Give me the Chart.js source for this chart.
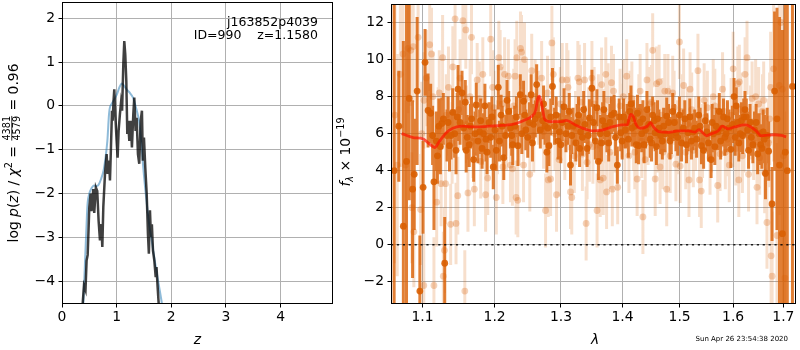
<!DOCTYPE html>
<html><head><meta charset="utf-8">
<script src="https://cdn.jsdelivr.net/npm/chart.js@4.4.1/dist/chart.umd.min.js"></script>
<style>
html,body{margin:0;padding:0;background:#fff;width:800px;height:350px;overflow:hidden;}
.wrap{position:absolute;top:0;}
canvas{display:block;}
</style></head>
<body>
<div class="wrap" style="left:0px"><canvas id="c1" width="340" height="350"></canvas></div>
<div class="wrap" style="left:335px"><canvas id="c2" width="465" height="350"></canvas></div>
<script>
// ---------- LEFT PANEL DATA: p(z) ----------
const zTicks = [0, 1, 2, 3, 4];
const logpTicks = [-4, -3, -2, -1, 0, 1, 2];
const fitZ    = [0.36, 0.39, 0.42, 0.45, 0.47, 0.50, 0.54, 0.58, 0.63, 0.67, 0.72, 0.76, 0.80, 0.83, 0.86, 0.88, 0.94, 1.00, 1.05, 1.09, 1.13, 1.18, 1.24, 1.30, 1.35, 1.41, 1.45, 1.48, 1.52, 1.55, 1.60, 1.64, 1.70, 1.76, 1.83, 1.87];
const fitLogP = [-5.2, -4.52, -3.6, -2.7, -2.2, -2.0, -1.88, -1.82, -1.83, -1.80, -1.65, -1.48, -1.15, -0.8, -0.2, -0.02, 0.11, 0.25, 0.42, 0.51, 0.47, 0.38, 0.30, 0.19, -0.02, -0.34, -0.8, -1.3, -1.85, -2.2, -2.75, -3.05, -3.55, -4.0, -4.52, -4.9];
const pzZ    = [0.370, 0.378, 0.402, 0.430, 0.450, 0.470, 0.500, 0.524, 0.540, 0.573, 0.590, 0.620, 0.645, 0.670, 0.695, 0.720, 0.738, 0.756, 0.787, 0.817, 0.835, 0.860, 0.878, 0.896, 0.915, 0.927, 0.945, 0.957, 0.975, 1.000, 1.018, 1.036, 1.060, 1.080, 1.100, 1.122, 1.140, 1.158, 1.177, 1.195, 1.210, 1.232, 1.257, 1.280, 1.305, 1.323, 1.347, 1.366, 1.390, 1.414, 1.440, 1.463, 1.480, 1.500, 1.524, 1.550, 1.573, 1.590, 1.610, 1.628, 1.645, 1.665, 1.690, 1.715, 1.730, 1.750, 1.770, 1.790];
const pzLogP = [-4.9, -4.52, -4.1, -4.2, -3.53, -3.4, -2.31, -2.0, -2.4, -1.9, -2.44, -1.86, -1.94, -2.62, -3.07, -2.7, -3.22, -2.31, -1.55, -1.1, -1.55, -1.25, -1.7, -0.95, -0.11, -0.34, 0.15, 0.38, -0.19, -0.80, -1.18, -0.57, -0.19, 0.07, -0.11, 0.95, 1.48, 1.17, 0.57, -0.64, -0.34, -0.80, -0.34, -0.95, -0.19, 0.19, -0.57, -0.27, -1.1, -1.32, -0.34, -0.11, -1.25, -0.72, -1.4, -2.0, -2.92, -3.37, -2.38, -2.99, -2.7, -3.3, -3.53, -3.91, -3.68, -4.13, -4.52, -4.9];

// ---------- RIGHT PANEL DATA: spectrum ----------
const lamTicks = [1.1, 1.2, 1.3, 1.4, 1.5, 1.6, 1.7];
const fluxTicks = [-2, 0, 2, 4, 6, 8, 10, 12];
const darkLam = [1.063,1.069,1.0749,1.079,1.0825,1.0869,1.0891,1.0929,1.0965,1.1008,1.1034,1.1074,1.1109,1.1153,1.1185,1.1219,1.1259,1.1299,1.1330,1.1364,1.1408,1.1435,1.1454,1.1482,1.1510,1.1537,1.1583,1.1610,1.1638,1.1670,1.1700,1.1737,1.1785,1.1820,1.1860,1.1891,1.1943,1.1980,1.2024,1.2053,1.2094,1.2133,1.2181,1.2231,1.2265,1.2294,1.2342,1.2377,1.2426,1.2460,1.2489,1.2540,1.2575,1.2601,1.2624,1.2650,1.2680,1.2715,1.2752,1.2780,1.2812,1.2840,1.2867,1.2900,1.2955,1.2997,1.3020,1.3048,1.3078,1.3110,1.3150,1.3190,1.3235,1.3278,1.3310,1.3340,1.3380,1.3415,1.3453,1.3494,1.3550,1.3600,1.3630,1.3670,1.3710,1.3770,1.3816,1.3860,1.3914,1.3970,1.4020,1.4080,1.4125,1.4160,1.4190,1.4236,1.4275,1.4330,1.4370,1.4420,1.4477,1.4520,1.4564,1.4605,1.4660,1.4713,1.4768,1.4827,1.4875,1.4933,1.4996,1.5035,1.5094,1.5155,1.5215,1.5275,1.5350,1.5400,1.5440,1.5500,1.5580,1.5625,1.5674,1.5735,1.5785,1.5840,1.5890,1.5955,1.6017,1.6060,1.6110,1.6160,1.6207,1.6256,1.6300,1.6353,1.6418,1.6480,1.6540,1.6590,1.6636,1.6700,1.6768,1.6820,1.6869,1.6920,1.6980,1.7037,1.7080,1.7186,
  1.1135,1.1200,1.1240,1.1280,1.1345,1.1385,1.1470,1.1560,1.1595,1.1655,1.1720,1.1760,1.1800,1.1840,1.1875,1.1920,
  1.1960,1.2005,1.2070,1.2110,1.2160,1.2205,1.2250,1.2320,1.2400,1.2445,1.2515,1.2560,1.2730,1.2795,1.2925,1.2975,1.3130,1.3170,1.3255,1.3295,1.3360,1.3435,1.3520,1.3575,1.3650,1.3690,1.3740,1.3790,1.3885,1.3945,1.3995,1.4050,1.4100,1.4145,1.4210,1.4255,1.4300,1.4350,1.4395,1.4450,1.4500,1.4545,1.4585,1.4630,1.4690,1.4740,1.4800,1.4850,1.4905,1.4965,1.5065,1.5125,1.5185,1.5245,1.5310,1.5375,1.5470,1.5530,1.5600,1.5650,1.5705,1.5760,1.5815,1.5865,1.5920,1.5985,1.6040,1.6085,1.6135,1.6185,1.6230,1.6280,1.6330,1.6385,1.6450,1.6510,1.6565,1.6610,1.6670];
const darkFlux = [4.0,6.4,1.0,4.5,7.9,3.0,3.8,8.3,-2.5,3.1,9.85,7.25,7.1,3.4,5.6,6.4,6.55,-1.0,5.9,5.35,7.15,6.0,5.1,8.4,6.6,8.2,7.7,5.8,5.4,6.8,4.6,7.55,6.1,5.2,7.5,5.0,5.8,4.2,5.1,8.5,7.0,4.7,7.8,6.3,5.4,6.4,5.35,8.1,7.75,6.2,5.8,8.1,6.5,6.8,8.65,7.0,6.2,6.7,6.4,5.0,5.35,6.9,8.55,6.4,5.6,5.4,6.6,7.45,6.0,6.4,4.3,6.4,5.5,7.0,6.1,5.8,6.5,5.2,6.85,8.45,5.6,4.5,6.0,6.7,6.4,5.5,7.0,7.1,4.3,6.05,6.9,6.6,7.2,6.3,6.8,5.4,5.35,6.0,5.4,7.3,5.7,7.0,6.05,6.8,5.9,6.4,6.95,5.6,7.2,6.05,7.0,5.5,6.8,6.05,5.6,6.3,7.0,5.35,5.1,6.1,4.6,6.0,6.4,7.2,6.3,5.8,6.8,5.15,8.0,7.5,5.5,6.7,6.9,6.9,5.1,5.8,6.2,4.9,5.4,6.1,3.85,5.05,2.2,8.3,6.8,4.3,0.6,5.0,4.0,8.55,
  5.9,4.8,5.3,6.8,6.6,5.9,6.9,6.3,5.1,6.4,6.0,5.6,6.7,6.0,5.7,6.6,
  6.9,6.2,5.6,6.4,5.9,7.2,5.9,6.9,6.0,7.0,6.6,5.5,7.6,6.3,7.0,6.1,7.2,5.9,6.6,5.2,7.3,5.9,6.6,7.4,5.5,7.3,6.0,6.6,5.8,6.9,5.6,6.2,5.7,7.6,6.4,7.1,6.6,6.8,6.2,6.5,5.5,6.7,5.3,6.3,5.6,6.0,6.6,5.9,6.6,5.8,6.3,5.4,6.9,6.1,5.7,6.4,6.7,5.5,6.6,5.3,6.1,5.6,6.9,6.0,6.3,6.5,5.8,6.6,6.0,5.9,7.3,6.2,6.6,5.4,6.6,6.0,5.2,5.7,5.9];
const darkErr = [12,3.0,10,9,5.5,4.8,3.0,4.0,3.0,2.5,1.8,2.0,1.6,2.6,1.6,1.5,1.4,2.5,1.4,1.4,1.3,1.3,1.3,1.3,1.2,1.2,1.2,1.2,1.2,1.2,1.2,1.2,1.2,1.1,1.2,1.2,1.1,1.2,1.1,1.2,1.1,1.2,1.1,1.1,1.1,1.1,1.1,1.1,1.1,1.1,1.1,1.1,1.1,1.0,1.1,1.0,1.0,1.0,1.0,1.1,1.1,1.0,1.0,1.0,1.0,1.0,1.0,1.0,1.0,1.0,1.1,1.0,1.0,1.0,1.0,1.0,1.0,1.0,1.0,1.0,1.0,1.0,1.0,1.0,1.0,1.0,1.0,1.0,1.0,1.0,1.0,1.0,1.0,1.0,1.0,1.0,1.0,1.0,1.0,1.0,1.0,1.0,1.0,1.0,1.0,1.0,1.0,1.0,1.0,1.0,1.0,1.0,1.0,1.0,1.0,1.0,1.0,1.0,1.0,1.0,1.0,1.0,1.0,1.0,1.0,1.0,1.0,1.0,1.0,1.0,1.0,1.0,1.0,1.0,1.0,1.0,1.0,1.1,1.1,1.2,1.4,1.6,2.0,4.3,6.0,8.0,11,12,12,12,
  1.6,1.5,1.5,1.4,1.4,1.3,1.3,1.2,1.2,1.2,1.2,1.2,1.2,1.1,1.2,1.1,
  1.1,1.1,1.1,1.1,1.1,1.1,1.1,1.1,1.1,1.1,1.1,1.0,1.0,1.0,1.0,1.0,1.0,1.0,1.0,1.0,1.0,1.0,1.0,1.0,1.0,1.0,1.0,1.0,1.0,1.0,1.0,1.0,1.0,1.0,1.0,1.0,1.0,1.0,1.0,1.0,1.0,1.0,1.0,1.0,1.0,1.0,1.0,1.0,1.0,1.0,1.0,1.0,1.0,1.0,1.0,1.0,1.0,1.0,1.0,1.0,1.0,1.0,1.0,1.0,1.0,1.0,1.0,1.0,1.0,1.0,1.0,1.0,1.0,1.0,1.0,1.1,1.1,1.3,1.5];
const lightLam = [1.064,1.067,1.071,1.0745,1.0776,1.0810,1.0845,1.0860,1.0877,1.0886,1.0942,1.0975,1.0990,1.1017,1.1050,1.1096,1.1120,1.1153,1.1190,1.1225,1.1250,1.1270,1.1280,1.1295,1.1310,1.1350,1.1380,1.1410,1.1441,1.1454,1.1478,1.1510,1.1550,1.1576,1.1590,1.1620,1.1650,1.1670,1.1710,1.1750,1.1800,1.1830,1.1870,1.1900,1.1943,1.1970,1.2024,1.2061,1.2080,1.2120,1.2145,1.2200,1.2231,1.2260,1.2300,1.2315,1.2325,1.2340,1.2380,1.2395,1.2426,1.2440,1.2520,1.2549,1.2600,1.2700,1.2760,1.2801,1.2838,1.2858,1.2880,1.2930,1.2970,1.3020,1.3090,1.3110,1.3150,1.3170,1.3210,1.3267,1.3290,1.3340,1.3375,1.3400,1.3415,1.3453,1.3494,1.3530,1.3578,1.3630,1.3652,1.3680,1.3722,1.3735,1.3790,1.3816,1.3830,1.3850,1.3920,1.3960,1.4015,1.4072,1.4110,1.4160,1.4210,1.4250,1.4302,1.4350,1.4390,1.4420,1.4470,1.4520,1.4564,1.4590,1.4634,1.4650,1.4700,1.4733,1.4768,1.4790,1.4830,1.4875,1.4933,1.4996,1.5010,1.5072,1.5110,1.5170,1.5190,1.5250,1.5335,1.5365,1.5396,1.5450,1.5510,1.5560,1.5620,1.5705,1.5750,1.5797,1.5850,1.5925,1.6000,1.6050,1.6090,1.6110,1.6120,1.6180,1.6232,1.6270,1.6300,1.6370,1.6440,1.6467,1.6520,1.6577,1.6620,1.6666,1.6740,1.6750,1.6770,1.6800,1.6869,1.6915,1.6950,1.6980,1.7000,1.7030,
  1.1020,1.1140,1.1210,1.1320,1.1400,1.1490,1.1600,1.1690,1.1780,1.1850,1.1990,1.2040,1.2110,1.2175,1.2280,1.2360,1.2470,1.2580,1.2650,1.2730,1.2790,1.2905,1.2990,1.3060,1.3130,1.3230,1.3310,1.3440,1.3510,1.3600,1.3700,1.3760,1.3870,1.3990,1.4040,1.4130,1.4190,1.4280,1.4330,1.4440,1.4500,1.4610,1.4680,1.4810,1.4900,1.4960,1.5040,1.5140,1.5220,1.5290,1.5420,1.5480,1.5590,1.5650,1.5730,1.5820,1.5890,1.5960,1.6020,1.6150,1.6210,1.6340,1.6400,1.6500,1.6550,1.6600,1.6700,1.6720];
const lightFlux = [7.0,4.3,9.2,10.3,4.3,10.6,10.5,2.0,10.7,0.7,11.2,1.9,6.0,-2.2,9.0,10.8,10.3,-2.2,2.3,8.2,3.3,10.1,-1.7,-0.3,3.3,8.5,1.1,9.6,12.2,1.15,2.65,9.0,12.1,-2.5,11.6,2.8,8.0,11.2,3.0,8.9,4.5,9.2,2.7,3.6,11.1,8.5,2.55,10.1,9.6,4.2,9.2,9.1,4.3,4.1,9.1,2.55,10.1,2.4,10.6,10.4,4.3,10.0,3.8,9.4,8.0,9.0,1.85,3.5,3.55,10.9,9.2,2.7,4.6,8.9,8.9,8.5,2.85,2.55,4.8,9.0,8.8,4.9,8.9,1.15,4.45,5.4,9.0,7.6,1.85,3.5,8.65,3.6,9.2,2.85,5.0,8.75,3.0,8.3,3.1,7.5,8.0,9.1,4.8,7.9,5.0,3.55,8.3,1.5,4.6,8.9,7.6,10.5,3.55,8.7,8.8,4.2,5.0,8.3,3.0,8.3,4.8,8.2,4.35,10.95,4.25,8.6,5.0,3.5,8.4,5.1,9.4,3.5,2.9,7.8,7.4,4.7,8.0,3.2,4.9,8.4,5.0,4.3,9.5,5.2,8.7,3.5,8.8,4.8,9.2,10.1,3.8,7.9,8.0,3.1,4.7,7.2,3.9,1.2,8.5,-0.6,-1.7,9.5,0.5,8.6,12.0,8.4,4.8,-1.8,
  7.8,8.0,6.2,7.0,5.5,7.3,6.5,5.6,7.9,6.3,7.4,5.8,7.6,6.0,7.5,6.3,7.9,5.9,7.4,6.1,8.2,6.0,7.6,5.5,7.1,6.3,7.7,6.5,5.3,7.2,6.4,7.8,5.9,6.7,5.4,7.4,6.0,7.2,5.6,6.3,7.7,5.9,7.0,6.6,7.4,5.8,7.2,6.5,7.3,6.0,5.6,6.9,5.9,7.5,6.1,7.2,5.7,7.0,6.2,7.3,5.9,6.6,5.5,7.6,6.0,7.8,5.5,6.8];
const lightErr = [8,6,5,4,3.5,3.5,3,3,3,3,3,3,2.8,2.8,2.6,2.5,2.5,2.6,2.4,2.3,2.3,2.3,2.4,2.3,2.2,2.2,2.2,2.2,2.2,2.2,2.1,2.1,2.1,2.2,2.1,2.1,2.0,2.0,2.0,2.0,2.0,2.0,2.0,2.0,2.0,2.0,2.0,2.0,2.0,2.0,2.0,2.0,2.0,2.0,2.0,2.0,2.0,2.0,2.0,2.0,2.0,2.0,2.0,2.0,2.0,2.0,2.0,2.0,2.0,2.0,2.0,2.0,2.0,2.0,2.0,2.0,2.0,2.0,2.0,2.0,2.0,2.0,2.0,2.0,2.0,2.0,2.0,2.0,2.0,2.0,2.0,2.0,2.0,2.0,2.0,2.0,2.0,2.0,2.0,2.0,2.0,2.0,2.0,2.0,2.0,2.0,2.0,2.0,2.0,2.0,2.0,2.0,2.0,2.0,2.0,2.0,2.0,2.0,2.0,2.0,2.0,2.0,2.0,2.0,2.0,2.0,2.0,2.0,2.0,2.0,2.0,2.0,2.0,2.0,2.0,2.0,2.0,2.0,2.0,2.0,2.0,2.0,2.0,2.0,2.0,2.0,2.0,2.0,2.0,2.0,2.0,2.0,2.0,2.0,2.0,2.0,2.2,2.5,3.0,3.0,3.5,5,5,7,8,8,8,9,
  2.6,2.4,2.3,2.2,2.2,2.1,2.1,2.0,2.0,2.0,2.0,2.0,2.0,2.0,2.0,2.0,2.0,2.0,2.0,2.0,2.0,2.0,2.0,2.0,2.0,2.0,2.0,2.0,2.0,2.0,2.0,2.0,2.0,2.0,2.0,2.0,2.0,2.0,2.0,2.0,2.0,2.0,2.0,2.0,2.0,2.0,2.0,2.0,2.0,2.0,2.0,2.0,2.0,2.0,2.0,2.0,2.0,2.0,2.0,2.0,2.0,2.0,2.0,2.0,2.0,2.1,2.4,2.5];
const modelLam  = [1.0727,1.0877,1.1008,1.1096,1.1163,1.1229,1.1320,1.1409,1.1546,1.1731,1.1919,1.2110,1.2306,1.2454,1.2554,1.2605,1.2645,1.2666,1.2710,1.2747,1.2834,1.3015,1.3078,1.3227,1.3388,1.3496,1.3660,1.3827,1.3996,1.4080,1.4138,1.4180,1.4235,1.4310,1.4425,1.4483,1.4541,1.4628,1.4804,1.4982,1.5162,1.5283,1.5356,1.5405,1.5496,1.5588,1.5712,1.5793,1.5901,1.6030,1.6224,1.6321,1.6452,1.6551,1.6685,1.6820,1.6955,1.7057];
const modelFlux = [6.0,5.79,5.72,5.43,5.25,5.6,6.05,6.29,6.40,6.36,6.40,6.44,6.54,6.75,6.95,7.22,7.94,8.03,7.4,6.77,6.65,6.65,6.72,6.47,6.24,6.15,6.19,6.36,6.47,6.47,7.04,6.95,6.47,6.29,6.40,6.59,6.33,6.11,6.07,6.15,6.15,6.08,6.22,6.10,5.88,6.0,6.15,6.4,6.26,6.36,6.47,6.4,6.15,5.88,5.92,5.94,5.90,5.83];
const zeroLine = [0, 0];

// ---------- helpers ----------
const FONT = "'DejaVu Sans', 'Liberation Sans', sans-serif";
function pts(xs, ys){ return xs.map((x,i)=>({x:x, y:ys[i]})); }
function errSegs(xs, ys, es){
  const out=[];
  xs.forEach((x,i)=>{ out.push({x:x,y:ys[i]-es[i]},{x:x,y:ys[i]+es[i]},{x:x,y:null}); });
  return out;
}
function fixedTicks(values){ return function(scale){ scale.ticks = values.map(v=>({value:v})); }; }
function minusFmt(v){ return String(v).replace('-', '\u2212'); }
function fitX(h){ return function(s){ s.height = h; s.paddingLeft = 0; s.paddingRight = 0; }; }
function fitY(w){ return function(s){ s.width = w; s.paddingTop = 0; s.paddingBottom = 0; }; }
const boxPlugin = {
  id:'box',
  afterDatasetsDraw(chart){
    const a = chart.chartArea, c = chart.ctx;
    c.save(); c.strokeStyle='#000'; c.lineWidth=1;
    c.strokeRect(Math.round(a.left)+0.5, Math.round(a.top)+0.5, Math.round(a.right-a.left)-1, Math.round(a.bottom-a.top)-1);
    c.restore();
  }
};
function drawRich(ctx, pieces, cx, cy, rotate){
  ctx.save();
  ctx.translate(cx, cy);
  if (rotate) ctx.rotate(-Math.PI/2);
  ctx.fillStyle = '#000';
  ctx.textBaseline = 'alphabetic';
  let total = 0;
  pieces.forEach(p=>{
    if (p.frac){ ctx.font = p.font; p.w = Math.max(ctx.measureText(p.frac[0]).width, ctx.measureText(p.frac[1]).width) + 2; }
    else { ctx.font = p.font; p.w = ctx.measureText(p.t).width; }
    total += p.w;
  });
  let x = -total/2;
  pieces.forEach(p=>{
    ctx.font = p.font;
    if (p.frac){
      ctx.textAlign='center';
      ctx.fillText(p.frac[0], x + p.w/2, -3);
      ctx.fillText(p.frac[1], x + p.w/2, 7);
      ctx.fillRect(x+1, -1.6, p.w-2, 0.8);
      ctx.textAlign='left';
    } else {
      ctx.textAlign='left';
      ctx.fillText(p.t, x, 5 + (p.dy||0));
    }
    x += p.w;
  });
  ctx.restore();
}
const N = "13.9px " + FONT, I = "italic 13.9px " + FONT, S = "9.7px " + FONT, SI = "italic 9.7px " + FONT;
const gridOpts = {color:'#b0b0b0', lineWidth:1, tickColor:'#000', tickLength:3.5};
const tickFont = {family:FONT, size:13.9};

// ---------- LEFT CHART ----------
const leftText = {
  id:'leftText',
  afterDraw(chart){
    const c = chart.ctx;
    drawRich(c, [
      {t:'log ', font:N}, {t:'p', font:I}, {t:'(', font:N}, {t:'z', font:I}, {t:') / ', font:N},
      {t:'\u03C7', font:I}, {t:'2', font:S, dy:-6}, {t:' = ', font:N},
      {frac:['4381','4579'], font:S}, {t:' = 0.96', font:N}
    ], 13, 153, true);
    drawRich(c, [{t:'z', font:I}], 197.5, 339, false);
    c.save();
    c.font = "12.5px " + FONT; c.fillStyle='#000'; c.textAlign='right'; c.textBaseline='alphabetic';
    c.fillText('j163852p4039', 318, 26);
    c.fillText('ID=990    z=1.1580', 318, 38.5);
    c.restore();
  }
};
new Chart(document.getElementById('c1'), {
  type:'scatter',
  data:{ datasets:[
    {data:pts(pzZ, pzLogP), showLine:true, borderColor:'rgba(0,0,0,0.75)', borderWidth:2.5, pointRadius:0, clip:0},
    {data:pts(fitZ, fitLogP), showLine:true, borderColor:'rgba(31,119,180,0.5)', borderWidth:2, pointRadius:0, tension:0.3, clip:0}
  ]},
  options:{
    responsive:false, animation:false, events:[],
    layout:{padding:{top:2, right:7, left:0, bottom:0}},
    plugins:{legend:{display:false}, tooltip:{enabled:false}},
    scales:{
      x:{type:'linear', min:0, max:4.96, afterBuildTicks:fixedTicks(zTicks), afterFit:fitX(46),
         grid:gridOpts, border:{display:false},
         ticks:{font:tickFont, color:'#000', padding:2, maxRotation:0, autoSkip:false, callback:v=>minusFmt(v)}},
      y:{type:'linear', min:-4.52, max:2.37, afterBuildTicks:fixedTicks(logpTicks), afterFit:fitY(62),
         grid:gridOpts, border:{display:false},
         ticks:{font:tickFont, color:'#000', padding:3.5, autoSkip:false, callback:v=>minusFmt(v)}}
    }
  },
  plugins:[boxPlugin, leftText]
});

// ---------- RIGHT CHART ----------
const rightText = {
  id:'rightText',
  afterDraw(chart){
    const c = chart.ctx;
    drawRich(c, [
      {t:'f', font:I}, {t:'\u03BB', font:SI, dy:3}, {t:' \u00D7 10', font:N}, {t:'\u221219', font:S, dy:-6}
    ], 10, 152, true);
    drawRich(c, [{t:'\u03BB', font:I}], 260, 339, false);
    c.save();
    c.font = "7px " + FONT; c.fillStyle='#000'; c.textAlign='right'; c.textBaseline='middle';
    c.fillText('Sun Apr 26 23:54:38 2020', 453, 339.5);
    c.restore();
  }
};
const ORANGE = '217,95,2';
new Chart(document.getElementById('c2'), {
  type:'scatter',
  data:{ datasets:[
    {data:pts(modelLam, modelFlux), showLine:true, borderColor:'rgba(255,20,0,0.7)', borderWidth:2.8, pointRadius:0, cubicInterpolationMode:'monotone', clip:0},
    {data:pts([1.059, 1.726], zeroLine), showLine:true, borderColor:'rgba(0,0,0,0.85)', borderWidth:1.5, borderDash:[2.2,3.7], pointRadius:0, clip:0},
    {data:pts(darkLam, darkFlux), pointRadius:3.4, pointBackgroundColor:'rgba('+ORANGE+',0.9)', pointBorderWidth:0, clip:0},
    {data:errSegs(darkLam, darkFlux, darkErr), showLine:true, spanGaps:false, borderColor:'rgba('+ORANGE+',0.8)', borderWidth:3, borderCapStyle:'butt', pointRadius:0, clip:0},
    {data:pts(lightLam, lightFlux), pointRadius:3.4, pointBackgroundColor:'rgba('+ORANGE+',0.28)', pointBorderWidth:0, clip:0},
    {data:errSegs(lightLam, lightFlux, lightErr), showLine:true, spanGaps:false, borderColor:'rgba('+ORANGE+',0.2)', borderWidth:3, borderCapStyle:'butt', pointRadius:0, clip:0}
  ]},
  options:{
    responsive:false, animation:false, events:[],
    layout:{padding:{top:2, right:1, left:0, bottom:0}},
    plugins:{legend:{display:false}, tooltip:{enabled:false}},
    scales:{
      x:{type:'logarithmic', min:1.059, max:1.726, afterBuildTicks:fixedTicks(lamTicks), afterFit:fitX(46),
         grid:gridOpts, border:{display:false},
         ticks:{font:tickFont, color:'#000', padding:2, maxRotation:0, autoSkip:false, callback:v=>Number(v).toFixed(1)}},
      y:{type:'linear', min:-3.2, max:13, afterBuildTicks:fixedTicks(fluxTicks), afterFit:fitY(56),
         grid:gridOpts, border:{display:false},
         ticks:{font:tickFont, color:'#000', padding:3.5, autoSkip:false, callback:v=>minusFmt(v)}}
    }
  },
  plugins:[boxPlugin, rightText]
});
</script>
</body></html>
